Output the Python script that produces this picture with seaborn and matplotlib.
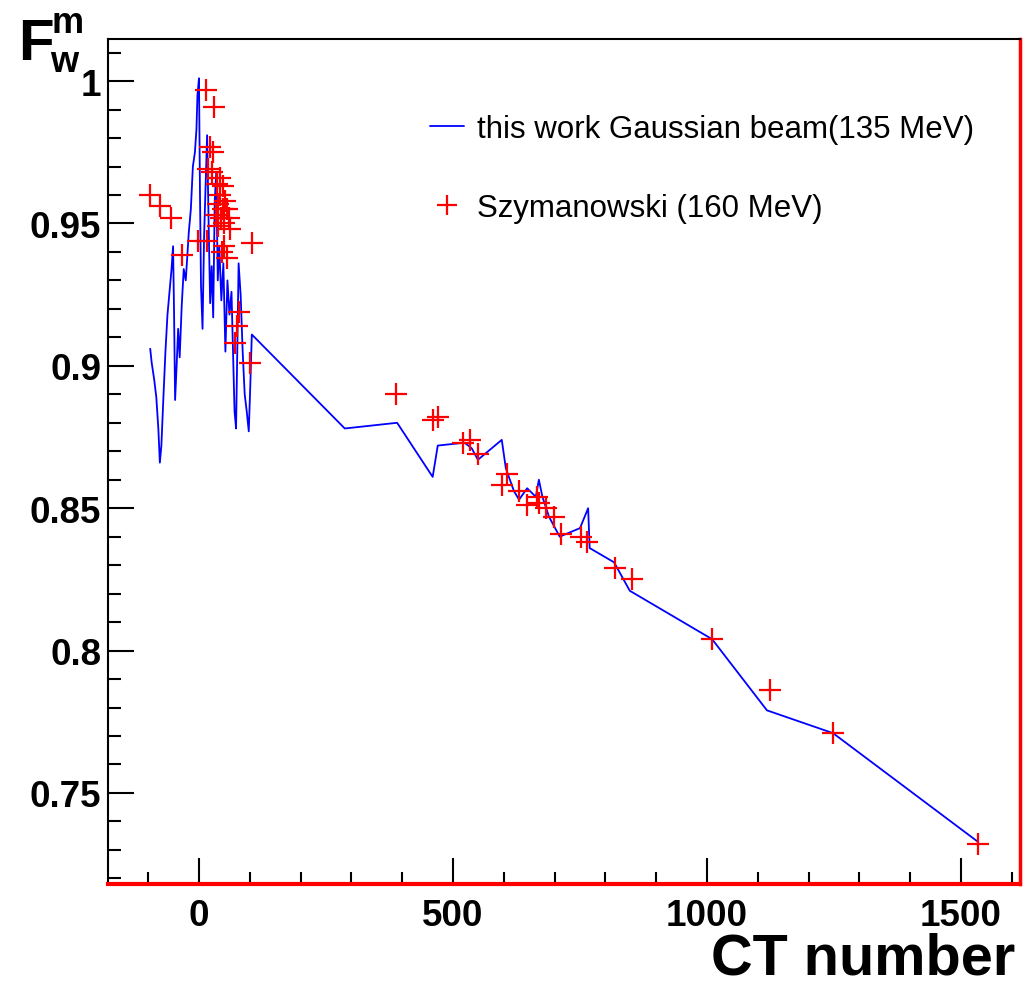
import numpy as np
import pandas as pd
import matplotlib
matplotlib.use("Agg")
import matplotlib.pyplot as plt
from matplotlib.lines import Line2D
import seaborn as sns

# ---- data ----
sim_ct = [-96, -93, -88, -84, -80, -77, -74, -70, -66, -62, -58, -54, -51, -49, -47,
          -44, -41, -38, -34, -30, -26, -20, -16, -12, -8, -5, -3, 0, 2, 4, 7, 10,
          13, 16, 19, 22, 25, 28, 31, 34, 37, 40, 44, 48, 52, 56, 60, 64, 68, 70,
          73, 76, 78, 82, 86, 90, 94, 98, 101, 104,
          287, 390, 460, 470, 523, 537, 549, 596, 604, 620, 630, 646, 663, 669, 676,
          689, 710, 750, 766, 769, 817, 848, 1010, 1118, 1248, 1532]
sim_fw = [0.906, 0.901, 0.895, 0.889, 0.878, 0.866, 0.872, 0.889, 0.905, 0.918, 0.926,
          0.934, 0.942, 0.918, 0.888, 0.900, 0.913, 0.903, 0.921, 0.934, 0.930, 0.947,
          0.955, 0.970, 0.975, 0.983, 0.995, 1.001, 0.960, 0.928, 0.913, 0.945, 0.963,
          0.981, 0.950, 0.922, 0.935, 0.917, 0.958, 0.968, 0.930, 0.942, 0.923, 0.936,
          0.905, 0.930, 0.918, 0.926, 0.898, 0.884, 0.878, 0.912, 0.936, 0.925, 0.905,
          0.890, 0.884, 0.877, 0.893, 0.911,
          0.878, 0.880, 0.861, 0.872, 0.873, 0.871, 0.867, 0.874, 0.864, 0.856, 0.853,
          0.857, 0.854, 0.860, 0.854, 0.847, 0.840, 0.843, 0.850, 0.836, 0.831, 0.821,
          0.804, 0.779, 0.771, 0.733]

ref_ct = [-96, -77, -55, -33, 14, 29, 22, 28, 17, 26, 41, 36, 47, 42, 52, 38, 48, 56,
          33, 44, 60, 50, 38, 62, -2, 16, 104, 45, 55, 50, 78, 75, 71, 100,
          388, 460, 470, 520, 533, 549, 606, 597, 630, 646, 666, 669, 683, 699, 713,
          752, 764, 819, 852, 1010, 1124, 1248, 1534]
ref_fw = [0.960, 0.956, 0.952, 0.939, 0.997, 0.991, 0.977, 0.975, 0.969, 0.968, 0.966,
          0.964, 0.963, 0.960, 0.958, 0.957, 0.955, 0.955, 0.953, 0.952, 0.952, 0.950,
          0.949, 0.948, 0.944, 0.944, 0.943, 0.940, 0.938, 0.942, 0.919, 0.914, 0.908,
          0.901,
          0.890, 0.881, 0.882, 0.873, 0.874, 0.869, 0.862, 0.858, 0.856, 0.851, 0.854,
          0.852, 0.850, 0.847, 0.841, 0.840, 0.838, 0.829, 0.825, 0.804, 0.786, 0.771,
          0.732]

sim_label = "this work Gaussian beam(135 MeV)"
ref_label = "Szymanowski (160 MeV)"
x_major = [0, 500, 1000, 1500]
x_major_labels = ["0", "500", "1000", "1500"]
y_major = [0.75, 0.80, 0.85, 0.90, 0.95, 1.00]
y_major_labels = ["0.75", "0.8", "0.85", "0.9", "0.95", "1"]

sim = pd.DataFrame({"ct": sim_ct, "fw": sim_fw})
ref = pd.DataFrame({"ct": ref_ct, "fw": ref_fw})

# ---- style ----
sns.set_theme(style="white")
plt.rcParams["font.family"] = ["Liberation Sans", "DejaVu Sans"]
plt.rcParams["text.color"] = "black"
plt.rcParams["xtick.labelcolor"] = "black"
plt.rcParams["ytick.labelcolor"] = "black"
plt.rcParams["legend.labelcolor"] = "black"

fig = plt.figure(figsize=(10.25, 9.87), dpi=100)
ax = fig.add_axes([0.1054, 0.1033, 0.8897, 0.8562])

sns.lineplot(data=sim, x="ct", y="fw", sort=False, estimator=None, color="#0000ff",
             linewidth=1.3, ax=ax)
sns.scatterplot(data=ref, x="ct", y="fw", marker="+", s=240, color="#ff0000",
                linewidth=1.6, ax=ax, zorder=3)

ax.set_xlim(-179, 1616)
ax.set_ylim(0.718, 1.0148)

ax.set_xticks(x_major)
ax.set_xticklabels(x_major_labels, fontsize=26.5, fontweight="bold", color="black")
ax.set_yticks(y_major)
ax.set_yticklabels(y_major_labels, fontsize=26.5, fontweight="bold", color="black")
ax.set_xticks(np.arange(-100, 1601, 100), minor=True)
ax.set_yticks(np.arange(0.72, 1.011, 0.01), minor=True)
ax.tick_params(which="both", direction="in", color="black", width=1.5,
               bottom=True, left=True, top=False, right=False)
ax.tick_params(which="major", length=19)
ax.tick_params(which="minor", length=9)
ax.tick_params(axis="x", which="major", pad=10)
ax.tick_params(axis="y", which="major", pad=5)
ax.set_xlabel("")
ax.set_ylabel("")

for side in ["left", "top"]:
    ax.spines[side].set_color("black")
    ax.spines[side].set_linewidth(1.5)
ax.spines["bottom"].set_color("#ff0000")
ax.spines["bottom"].set_linewidth(3)
ax.spines["right"].set_color("#ff0000")
ax.spines["right"].set_linewidth(2.5)

# legend, ROOT style without a frame
handles = [Line2D([], [], color="#0000ff", linewidth=1.3),
           Line2D([], [], color="#ff0000", marker="+", linestyle="none",
                  markersize=15, markeredgewidth=1.6)]
ax.legend(handles, [sim_label, ref_label], loc="upper left",
          bbox_to_anchor=(0.353, 0.911), frameon=False, fontsize=22.5,
          handlelength=1.1, handletextpad=0.42, labelspacing=1.55,
          borderpad=0, borderaxespad=0, labelcolor="black")

# axis titles
fig.text(1015 / 1025, 12 / 987, "CT number", ha="right", va="baseline",
         fontsize=41.5, fontweight="bold", color="black")
fig.text(18 / 1025, 1 - 60 / 987, "F", ha="left", va="baseline",
         fontsize=42, fontweight="bold", color="black")
fig.text(52 / 1025, 1 - 33 / 987, "m", ha="left", va="baseline",
         fontsize=26, fontweight="bold", color="black")
fig.text(50 / 1025, 1 - 72 / 987, "w", ha="left", va="baseline",
         fontsize=26, fontweight="bold", color="black")

fig.savefig("out.png", dpi=100)
